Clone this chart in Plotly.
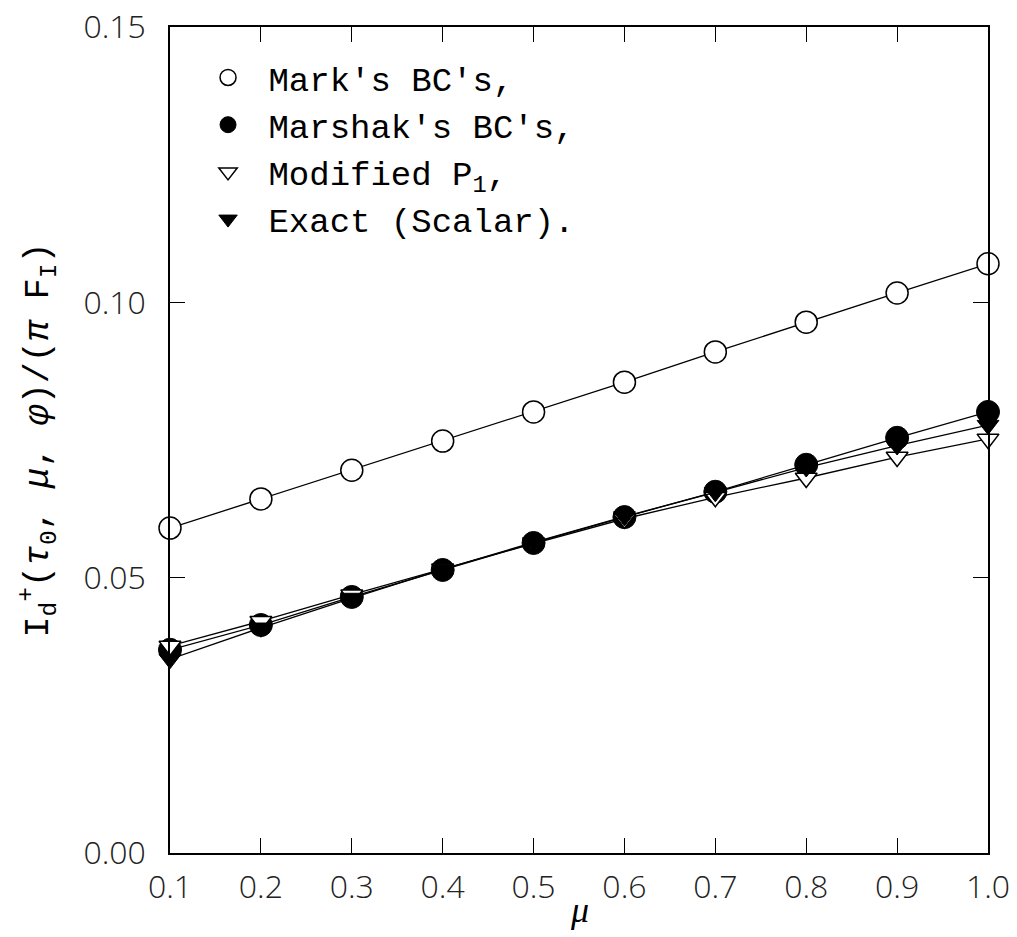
import plotly.graph_objects as go

# Cosine of the viewing angle
mu = [0.1, 0.2, 0.3, 0.4, 0.5, 0.6, 0.7, 0.8, 0.9, 1.0]

# Diffuse upward intensity at the top, normalised by pi*F_I
mark_bc = [0.0590, 0.0643, 0.0695, 0.0748, 0.0801, 0.0855, 0.0910, 0.0964, 0.1017, 0.1070]
marshak_bc = [0.0369, 0.0414, 0.0465, 0.0514, 0.0563, 0.0610, 0.0656, 0.0705, 0.0754, 0.0801]
modified_p1 = [0.0376, 0.0421, 0.0469, 0.0516, 0.0562, 0.0607, 0.0646, 0.0681, 0.0719, 0.0752]
exact_scalar = [0.0352, 0.0409, 0.0463, 0.0515, 0.0564, 0.0611, 0.0655, 0.0700, 0.0740, 0.0777]

x_ticks = [0.1, 0.2, 0.3, 0.4, 0.5, 0.6, 0.7, 0.8, 0.9, 1.0]
x_tick_text = ["0.1", "0.2", "0.3", "0.4", "0.5", "0.6", "0.7", "0.8", "0.9", "1.0"]
y_ticks = [0.00, 0.05, 0.10, 0.15]
y_tick_text = ["0.00", "0.05", "0.10", "0.15"]

series = [
    ("Mark's BC's,", mark_bc, dict(symbol="circle", size=22, color="white",
                                    line=dict(color="black", width=1.5))),
    ("Marshak's BC's,", marshak_bc, dict(symbol="circle", size=23, color="black",
                                          line=dict(color="black", width=1))),
    ("Modified P<sub>1</sub>,", modified_p1, dict(symbol="triangle-down", size=19, color="white",
                                                  line=dict(color="black", width=1.5))),
    ("Exact (Scalar).", exact_scalar, dict(symbol="triangle-down", size=19, color="black",
                                            line=dict(color="black", width=1))),
]

fig = go.Figure()

for name, values, marker in series:
    fig.add_trace(go.Scatter(
        x=mu, y=values, mode="lines+markers", name=name,
        line=dict(color="black", width=1.3), marker=marker,
        showlegend=False, cliponaxis=False,
    ))

# Legend entries show the symbols only
for name, values, marker in series:
    fig.add_trace(go.Scatter(
        x=[None], y=[None], mode="markers", name="\u00a0" + name, marker=marker,
    ))

tick_font = dict(family="Open Sans", size=32, color="#222", weight=300)

axis_common = dict(
    showline=True, linecolor="black", linewidth=1.5, mirror="ticks",
    ticks="inside", ticklen=15, tickwidth=1.3, tickcolor="black",
    showgrid=False, zeroline=False, automargin=False,
    tickfont=tick_font,
)

y_title = ("I<sub>d</sub><sup>+</sup>(<i>τ</i><sub>0</sub>, <i>μ</i>, "
           "<i>φ</i>)/(<i>π</i> F<sub>I</sub>)")

fig.update_layout(
    width=1017, height=937,
    margin=dict(l=170, r=29, t=27, b=84),
    paper_bgcolor="white", plot_bgcolor="white",
    xaxis=dict(range=[0.1, 1.0], tickvals=x_ticks, ticktext=x_tick_text,
               ticklabelstandoff=5,
               **axis_common),
    yaxis=dict(range=[0.0, 0.15], tickvals=y_ticks, ticktext=y_tick_text,
               ticklabelstandoff=16,
               title=dict(text=y_title,
                          font=dict(family="Liberation Mono", size=35, color="black"),
                          standoff=24),
               **axis_common),
    legend=dict(x=0.0465, y=0.9735, xanchor="left", yanchor="top",
                bgcolor="rgba(0,0,0,0)", borderwidth=0,
                font=dict(family="Liberation Mono", size=34, color="black"),
                itemsizing="trace", tracegroupgap=0),
    showlegend=True,
    annotations=[dict(
        text="<i>μ</i>", xref="paper", yref="paper", x=0.5, y=-0.069,
        xanchor="center", yanchor="middle", showarrow=False,
        font=dict(family="Liberation Serif", size=36, color="black"),
    )],
)

fig.write_html("out.html")
